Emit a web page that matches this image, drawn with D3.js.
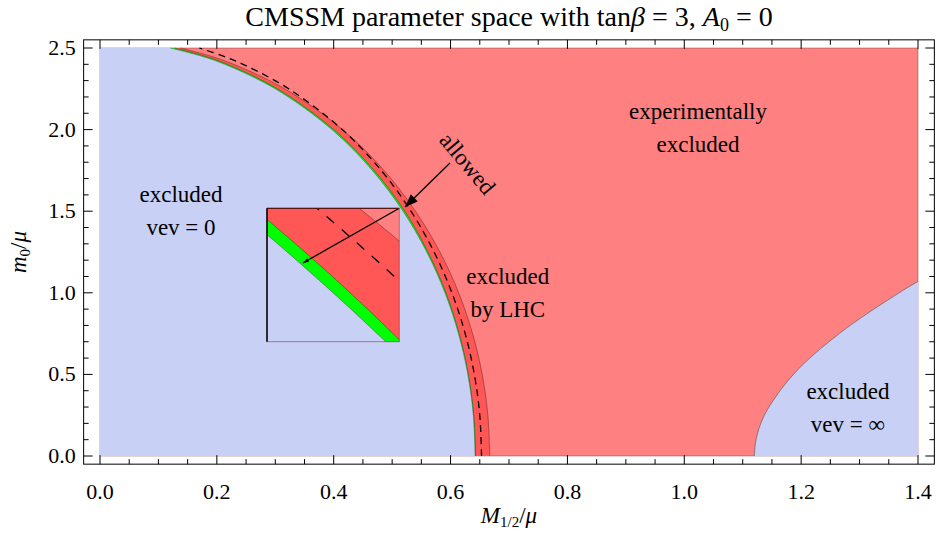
<!DOCTYPE html>
<html><head><meta charset="utf-8">
<script src="https://cdn.jsdelivr.net/npm/d3@7"></script>
<style>
body{margin:0;background:#fff}
text{font-family:"Liberation Serif","Times New Roman",serif;fill:#000}
</style>
</head><body>
<svg id="c" width="936" height="547"></svg>
<script>
// ---------- data ----------
const m0Grid      = [0, 0.25, 0.5, 0.75, 1.0, 1.25, 1.5, 1.75, 2.0, 2.25, 2.4, 2.45, 2.5];
const vevZeroEdge = [0.642, 0.6389, 0.6295, 0.6135, 0.5904, 0.5592, 0.5186, 0.4661, 0.3970, 0.3000, 0.2136, 0.1738, 0.1203];
const allowedEdge = [0.6428, 0.6397, 0.6305, 0.6148, 0.5921, 0.5612, 0.5216, 0.4691, 0.4001, 0.3035, 0.2180, 0.1789, 0.1271];
const lhcEdge     = [0.667, 0.6638, 0.6541, 0.6376, 0.6138, 0.5817, 0.5399, 0.4860, 0.4150, 0.3160, 0.2288, 0.1893, 0.1377];
const dashedEdge  = [0.653, 0.6500, 0.6407, 0.6250, 0.6023, 0.5718, 0.5322, 0.4812, 0.4147, 0.3230, 0.2449, 0.2111, 0.1700];
const vevInfM0    = [0, 0.1, 0.25, 0.5, 0.75, 1.0, 1.07];
const vevInfEdge  = [1.12, 1.1228, 1.1371, 1.1868, 1.2653, 1.3676, 1.4];
const xTicks = [0, 0.2, 0.4, 0.6, 0.8, 1.0, 1.2, 1.4];
const yTicks = [0, 0.5, 1.0, 1.5, 2.0, 2.5];
const xTickLabels = ["0.0","0.2","0.4","0.6","0.8","1.0","1.2","1.4"];
const yTickLabels = ["0.0","0.5","1.0","1.5","2.0","2.5"];
// inset window (data coordinates)
const insetM12 = [0.5145, 0.5370];
const insetM0  = [1.4085, 1.5500];
// annotations (data coordinates)
const arrowMain  = [[0.599, 1.795], [0.522, 1.526]];
const arrowInset = [[0.5370, 1.5500], [0.5206, 1.492]];
const allowedPos = [0.628, 1.789];
const labels = [
  {lines:["excluded","vev = 0"], at:[0.1386, 1.60]},
  {lines:["experimentally","excluded"], at:[1.0235, 2.108]},
  {lines:["excluded","by LHC"], at:[0.698, 1.097]},
  {lines:["excluded","vev = \u221E"], at:[1.280, 0.392]}
];

// ---------- colours ----------
const C = {blue:"#c9d0f5", red:"#ff8080", lhc:"#ff5656", green:"#00ff00"};

const svg = d3.select("#c");
const x = d3.scaleLinear([0, 1.4], [100, 918]);
const y = d3.scaleLinear([0, 2.5], [456, 48]);
const frame = {x0: x(-0.028), x1: x(1.428), y0: y(2.55), y1: y(-0.05)};

const edgePts = arr => m0Grid.map((m, i) => ({m, v: arr[i]}));
function drawRegions(g, sx, sy, dash) {
  g.append("rect").attr("x", sx(0)).attr("y", sy(2.5))
    .attr("width", sx(1.4) - sx(0)).attr("height", sy(0) - sy(2.5))
    .attr("fill", C.red).attr("stroke", "rgba(110,60,60,0.45)").attr("stroke-width", 1);
  const areaL = d3.area().curve(d3.curveCatmullRom).y(d => sy(d.m)).x0(sx(0)).x1(d => sx(d.v));
  const lineE = d3.line().curve(d3.curveCatmullRom).x(d => sx(d.v)).y(d => sy(d.m));
  g.append("path").attr("d", areaL(edgePts(lhcEdge))).attr("fill", C.lhc);
  g.append("path").attr("d", lineE(edgePts(lhcEdge))).attr("fill", "none")
    .attr("stroke", "rgba(110,40,40,0.55)").attr("stroke-width", 1);
  g.append("path").attr("d", areaL(edgePts(allowedEdge))).attr("fill", C.green);
  g.append("path").attr("d", lineE(edgePts(allowedEdge))).attr("fill", "none")
    .attr("stroke", "rgba(0,90,0,0.6)").attr("stroke-width", 0.8);
  g.append("path").attr("d", areaL(edgePts(vevZeroEdge))).attr("fill", C.blue);
  g.append("path").attr("d", lineE(edgePts(vevZeroEdge))).attr("fill", "none")
    .attr("stroke", "rgba(60,60,60,0.55)").attr("stroke-width", 0.8);
  g.append("path").attr("d", lineE(edgePts(dashedEdge))).attr("fill", "none")
    .attr("stroke", "#000").attr("stroke-width", 1.3).attr("stroke-dasharray", dash);
}

const gMain = svg.append("g");
drawRegions(gMain, x, y, "7,5");
const infPts = vevInfM0.map((m, i) => ({m, v: vevInfEdge[i]}));
gMain.append("path")
  .attr("d", d3.area().curve(d3.curveCatmullRom).y(d => y(d.m)).x0(d => x(d.v)).x1(x(1.4))(infPts))
  .attr("fill", C.blue);
gMain.append("path")
  .attr("d", d3.line().curve(d3.curveCatmullRom).x(d => x(d.v)).y(d => y(d.m))(infPts))
  .attr("fill", "none").attr("stroke", "rgba(80,80,80,0.6)").attr("stroke-width", 1);

svg.append("rect").attr("x", frame.x0).attr("y", frame.y0)
  .attr("width", frame.x1 - frame.x0).attr("height", frame.y1 - frame.y0)
  .attr("fill", "none").attr("stroke", "#000").attr("stroke-width", 1);

const xMinor = d3.range(0, 1.4001, 0.05).filter(v => Math.abs(v / 0.2 - Math.round(v / 0.2)) > 1e-6);
const yMinor = d3.range(0, 2.5001, 0.1).filter(v => Math.abs(v / 0.5 - Math.round(v / 0.5)) > 1e-6);
const tk = svg.append("g").attr("stroke", "#000").attr("stroke-width", 1);
function xt(v, len) {
  tk.append("line").attr("x1", x(v)).attr("x2", x(v)).attr("y1", frame.y1).attr("y2", frame.y1 - len);
  tk.append("line").attr("x1", x(v)).attr("x2", x(v)).attr("y1", frame.y0).attr("y2", frame.y0 + len);
}
function yt(v, len) {
  tk.append("line").attr("y1", y(v)).attr("y2", y(v)).attr("x1", frame.x0).attr("x2", frame.x0 + len);
  tk.append("line").attr("y1", y(v)).attr("y2", y(v)).attr("x1", frame.x1).attr("x2", frame.x1 - len);
}
xTicks.forEach(v => xt(v, 9)); xMinor.forEach(v => xt(v, 5));
yTicks.forEach(v => yt(v, 9)); yMinor.forEach(v => yt(v, 5));

const FS = 22;
svg.append("g").selectAll("text").data(xTicks).join("text")
  .attr("x", d => x(d)).attr("y", 499).attr("text-anchor", "middle").attr("font-size", FS)
  .text((d, i) => xTickLabels[i]);
svg.append("g").selectAll("text").data(yTicks).join("text")
  .attr("x", frame.x0 - 8).attr("y", d => y(d) + 7).attr("text-anchor", "end").attr("font-size", FS)
  .text((d, i) => yTickLabels[i]);

const xl = svg.append("text").attr("x", (frame.x0 + frame.x1) / 2).attr("y", 523)
  .attr("text-anchor", "middle").attr("font-size", 23);
xl.append("tspan").attr("font-style", "italic").text("M");
xl.append("tspan").attr("font-size", 15).attr("dy", 4).text("1/2");
xl.append("tspan").attr("dy", -4).text("/");
xl.append("tspan").attr("font-style", "italic").text("\u03BC");

const yl = svg.append("text").attr("transform", `translate(26,${(frame.y0 + frame.y1) / 2}) rotate(-90)`)
  .attr("text-anchor", "middle").attr("font-size", 23);
yl.append("tspan").attr("font-style", "italic").text("m");
yl.append("tspan").attr("font-size", 15).attr("dy", 4).text("0");
yl.append("tspan").attr("dy", -4).text("/");
yl.append("tspan").attr("font-style", "italic").text("\u03BC");

const tt = svg.append("text").attr("x", (frame.x0 + frame.x1) / 2).attr("y", 26)
  .attr("text-anchor", "middle").attr("font-size", 28);
tt.append("tspan").text("CMSSM parameter space with tan");
tt.append("tspan").attr("font-style", "italic").text("\u03B2");
tt.append("tspan").text(" = 3, ");
tt.append("tspan").attr("font-style", "italic").text("A");
tt.append("tspan").attr("font-size", 18).attr("dy", 5).text("0");
tt.append("tspan").attr("dy", -5).text(" = 0");

labels.forEach(L => {
  L.lines.forEach((s, i) => {
    svg.append("text").attr("x", x(L.at[0])).attr("y", y(L.at[1]) + i * 33 + 7)
      .attr("text-anchor", "middle").attr("font-size", 23).text(s);
  });
});

function arrow(g, p0, p1, head, w) {
  g.append("line").attr("x1", p0[0]).attr("y1", p0[1]).attr("x2", p1[0]).attr("y2", p1[1])
    .attr("stroke", "#000").attr("stroke-width", 1.3);
  const a = Math.atan2(p1[1] - p0[1], p1[0] - p0[0]);
  const bx = p1[0] - head * Math.cos(a), by = p1[1] - head * Math.sin(a);
  const nx = -Math.sin(a) * w, ny = Math.cos(a) * w;
  g.append("path").attr("d", `M${p1[0]},${p1[1]}L${bx + nx},${by + ny}L${bx - nx},${by - ny}Z`).attr("fill", "#000");
}
arrow(svg, [x(arrowMain[0][0]), y(arrowMain[0][1])], [x(arrowMain[1][0]), y(arrowMain[1][1])], 13, 5);
svg.append("text").attr("transform", `translate(${x(allowedPos[0])},${y(allowedPos[1])}) rotate(50)`)
  .attr("text-anchor", "middle").attr("dy", 7).attr("font-size", 23).text("allowed");

const box = {x0: 267, x1: 399.3, y0: 208.3, y1: 341.7};
const xi = d3.scaleLinear(insetM12, [box.x0, box.x1]);
const yi = d3.scaleLinear(insetM0, [box.y1, box.y0]);
svg.append("clipPath").attr("id", "ic").append("rect")
  .attr("x", box.x0).attr("y", box.y0).attr("width", box.x1 - box.x0).attr("height", box.y1 - box.y0);
const gIn = svg.append("g").attr("clip-path", "url(#ic)");
gIn.append("rect").attr("x", box.x0).attr("y", box.y0).attr("width", box.x1 - box.x0)
  .attr("height", box.y1 - box.y0).attr("fill", C.red);
drawRegions(gIn, xi, yi, "10,10");
arrow(gIn, [xi(arrowInset[0][0]), yi(arrowInset[0][1])], [xi(arrowInset[1][0]), yi(arrowInset[1][1])], 6, 2);
svg.append("rect").attr("x", box.x0).attr("y", box.y0).attr("width", box.x1 - box.x0)
  .attr("height", box.y1 - box.y0).attr("fill", "none").attr("stroke", "rgba(120,60,60,0.5)").attr("stroke-width", 1);
svg.append("line").attr("x1", box.x0).attr("x2", box.x1).attr("y1", box.y0).attr("y2", box.y0)
  .attr("stroke", "#5a1515").attr("stroke-width", 1.3);
svg.append("line").attr("x1", box.x0).attr("x2", box.x0).attr("y1", box.y0).attr("y2", box.y1)
  .attr("stroke", "#000").attr("stroke-width", 1.5);
</script>
</body></html>
